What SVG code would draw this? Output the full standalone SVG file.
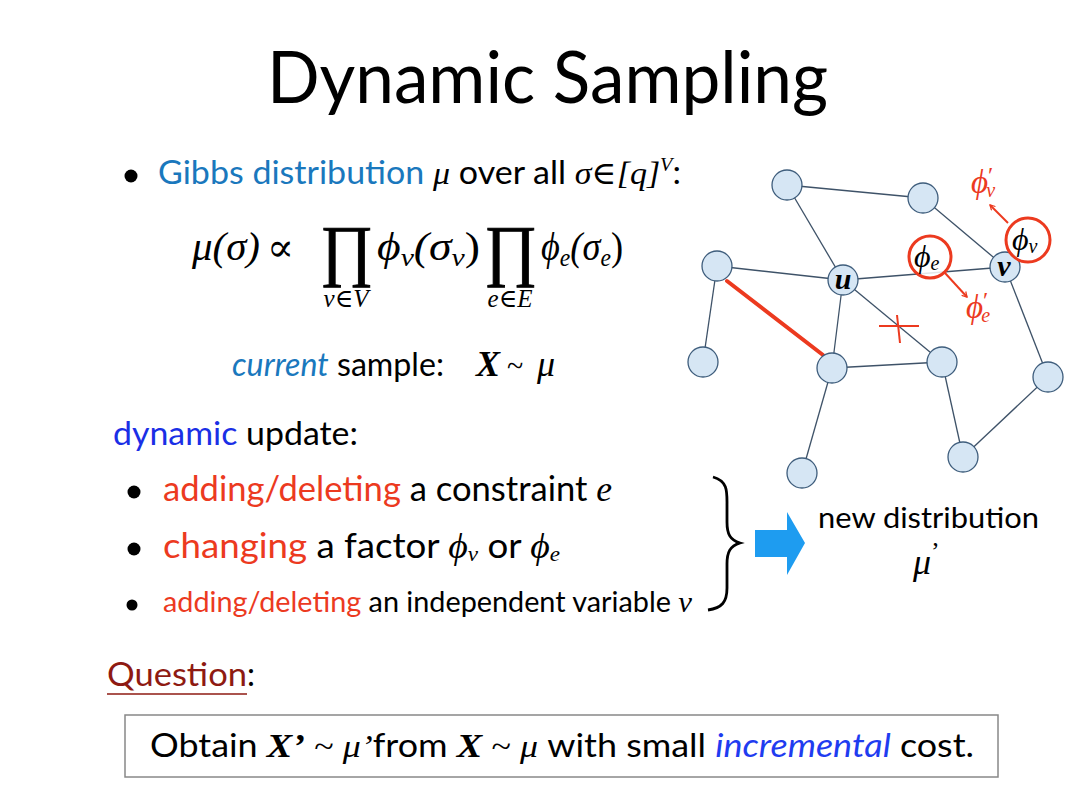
<svg xmlns="http://www.w3.org/2000/svg" width="1080" height="809" viewBox="0 0 1080 809">
<style>
.sans{font-family:Lato,"Open Sans","Liberation Sans",sans-serif;}
.math{font-family:"Liberation Serif","DejaVu Serif",serif;font-style:italic;}
.up{font-style:normal;}
.blue1{fill:#1a78bd;}
.blue2{fill:#1a2fe6;}
.red{fill:#ec3a1f;}
.node{fill:#d6e6f4;stroke:#3e5d7c;stroke-width:1.3;}
.edge{stroke:#3e5268;stroke-width:1.3;fill:none;}
.ring{fill:none;stroke:#ec3a1f;stroke-width:3;}
.rline{stroke:#ec3a1f;stroke-width:2;fill:none;}
.prod{stroke:#000;stroke-width:0.9;}
</style>
<defs>
<marker id="ah" viewBox="0 0 10 10" refX="8" refY="5" markerWidth="7" markerHeight="7" orient="auto" markerUnits="userSpaceOnUse">
<path d="M1,1 L8,5 L1,9" fill="none" stroke="#ec3a1f" stroke-width="1.8"/>
</marker>
</defs>
<rect width="1080" height="809" fill="#fff"/>

<text id="title" class="sans" x="267" y="103" font-size="71" textLength="561" lengthAdjust="spacingAndGlyphs">Dynamic Sampling</text>

<g id="gibbs">
<circle cx="131" cy="176" r="6.5" fill="#000"/>
<text class="sans" x="158" y="184" font-size="32" textLength="523" lengthAdjust="spacingAndGlyphs"><tspan class="blue1">Gibbs distribution</tspan> <tspan class="math" font-size="32">μ</tspan> over all <tspan class="math" font-size="32">σ<tspan class="up">∈</tspan>[q]</tspan><tspan class="math" font-size="19" dy="-13">V</tspan><tspan dy="13">:</tspan></text>
</g>

<g id="formula" class="math" font-size="40">
<text x="192" y="260" textLength="68" lengthAdjust="spacingAndGlyphs">μ(σ)</text>
<text x="267" y="261" class="up" font-size="40">∝</text>
<text x="320" y="273" font-size="68" class="up prod" textLength="53" lengthAdjust="spacingAndGlyphs">∏</text>
<text x="377" y="260" textLength="103" lengthAdjust="spacingAndGlyphs">ϕ<tspan font-size="26" dy="6">v</tspan><tspan dy="-6">(σ</tspan><tspan font-size="26" dy="6">v</tspan><tspan dy="-6" class="up">)</tspan></text>
<text x="484" y="273" font-size="68" class="up prod" textLength="53" lengthAdjust="spacingAndGlyphs">∏</text>
<text x="541" y="260" textLength="82" lengthAdjust="spacingAndGlyphs">ϕ<tspan font-size="26" dy="6">e</tspan><tspan dy="-6">(σ</tspan><tspan font-size="26" dy="6">e</tspan><tspan dy="-6" class="up">)</tspan></text>
<text x="346" y="307" font-size="25" text-anchor="middle">v<tspan class="up">∈</tspan>V</text>
<text x="510" y="307" font-size="25" text-anchor="middle">e<tspan class="up">∈</tspan>E</text>
</g>

<g id="current">
<text class="sans" x="232" y="376" font-size="32" textLength="212" lengthAdjust="spacingAndGlyphs"><tspan class="blue1" font-style="italic">current</tspan> sample:</text>
<text class="math" x="476" y="376" font-size="36" font-weight="bold">X</text>
<text class="math up" x="507" y="376" font-size="30">~</text>
<text class="math" x="537" y="376" font-size="36">μ</text>
</g>

<g id="update">
<text class="sans" x="113" y="445" font-size="32" textLength="245" lengthAdjust="spacingAndGlyphs"><tspan class="blue2">dynamic</tspan> update:</text>
<circle cx="134" cy="492" r="6.5" fill="#000"/>
<text class="sans" x="163" y="501" font-size="35" textLength="449" lengthAdjust="spacingAndGlyphs"><tspan class="red">adding/deleting</tspan> a constraint <tspan class="math" font-size="36">e</tspan></text>
<circle cx="134" cy="549" r="6.5" fill="#000"/>
<text class="sans" x="163" y="558" font-size="35" textLength="397" lengthAdjust="spacingAndGlyphs"><tspan class="red">changing</tspan> a factor <tspan class="math" font-size="36">ϕ<tspan font-size="22" dy="3">v</tspan></tspan><tspan dy="-3"> or </tspan><tspan class="math" font-size="36">ϕ<tspan font-size="22" dy="3">e</tspan></tspan></text>
<circle cx="132" cy="605" r="5.5" fill="#000"/>
<text class="sans" x="163" y="612" font-size="28" textLength="529" lengthAdjust="spacingAndGlyphs"><tspan class="red">adding/deleting</tspan> an independent variable <tspan class="math" font-size="30">v</tspan></text>
</g>

<g id="brace">
<path d="M713,477 C728,481 727,492 727,505 L727,522 C727,534 730,540 740,543 C730,546 727,552 727,564 L727,588 C727,602 722,608 708,610" fill="none" stroke="#000" stroke-width="2.8"/>
</g>

<g id="bigarrow">
<polygon points="755,530 787,530 787,512 805,543 787,575 787,557 755,557" fill="#1e9cf0"/>
</g>

<g id="newdist">
<text class="sans" x="818" y="528" font-size="28" textLength="221" lengthAdjust="spacingAndGlyphs">new distribution</text>
<text class="math" x="913" y="574" font-size="36">μ<tspan class="up" font-size="26" dy="-14">’</tspan></text>
</g>

<g id="question">
<text class="sans" x="107" y="686" font-size="32"><tspan fill="#8e1a12" textLength="140" lengthAdjust="spacingAndGlyphs">Question</tspan>:</text>
<line x1="107" y1="694" x2="247" y2="694" stroke="#8e1a12" stroke-width="1.6"/>
</g>

<g id="box">
<rect x="125" y="715" width="873" height="62" fill="#fff" stroke="#888" stroke-width="1.5"/>
<text class="sans" x="150" y="757" font-size="32" textLength="824" lengthAdjust="spacingAndGlyphs">Obtain <tspan class="math" font-weight="bold" font-size="34">X’</tspan> <tspan class="math up">~</tspan> <tspan class="math">μ’</tspan>from <tspan class="math" font-weight="bold" font-size="34">X</tspan> <tspan class="math up">~</tspan> <tspan class="math">μ</tspan> with small <tspan fill="#1f3cf0" font-style="italic">incremental</tspan> cost.</text>
</g>

<g id="connectors">
<line class="edge" x1="787" y1="185" x2="923" y2="198"/>
<line class="edge" x1="787" y1="185" x2="843" y2="280"/>
<line class="edge" x1="923" y1="198" x2="1005" y2="267"/>
<line class="edge" x1="717" y1="266" x2="843" y2="280"/>
<line class="edge" x1="717" y1="266" x2="703" y2="362"/>
<line class="edge" x1="843" y1="280" x2="1005" y2="267"/>
<line class="edge" x1="843" y1="280" x2="832" y2="368"/>
<line class="edge" x1="843" y1="280" x2="942" y2="362"/>
<line class="edge" x1="832" y1="368" x2="942" y2="362"/>
<line class="edge" x1="832" y1="368" x2="802" y2="473"/>
<line class="edge" x1="942" y1="362" x2="963" y2="457"/>
<line class="edge" x1="1005" y1="267" x2="1048" y2="377"/>
<line class="edge" x1="1048" y1="377" x2="963" y2="457"/>
<line x1="727" y1="281" x2="823" y2="355" stroke="#ec3a1f" stroke-width="4" stroke-linecap="round"/>
<line class="rline" x1="945" y1="273" x2="967" y2="297" marker-end="url(#ah)"/>
<line class="rline" x1="1008" y1="223" x2="990" y2="205" marker-end="url(#ah)"/>
<line class="rline" x1="879" y1="326" x2="919" y2="326" stroke-width="2.5"/>
<line class="rline" x1="897" y1="315" x2="900" y2="343" stroke-width="2.5"/>
</g>

<g id="n-a"><circle class="node" cx="787" cy="185" r="15"/></g>
<g id="n-b"><circle class="node" cx="923" cy="198" r="15"/></g>
<g id="n-c"><circle class="node" cx="717" cy="266" r="15"/></g>
<g id="n-u"><circle class="node" cx="843" cy="280" r="15"/><text class="math" x="843" y="289" font-size="30" font-weight="bold" text-anchor="middle">u</text></g>
<g id="n-v"><circle class="node" cx="1005" cy="267" r="15"/><text class="math" x="1004" y="276" font-size="30" font-weight="bold" text-anchor="middle">v</text></g>
<g id="n-d"><circle class="node" cx="703" cy="362" r="15"/></g>
<g id="n-m"><circle class="node" cx="832" cy="368" r="15"/></g>
<g id="n-r"><circle class="node" cx="942" cy="362" r="15"/></g>
<g id="n-f"><circle class="node" cx="1048" cy="377" r="15"/></g>
<g id="n-g"><circle class="node" cx="802" cy="473" r="15"/></g>
<g id="n-h"><circle class="node" cx="963" cy="457" r="15"/></g>

<g id="phi-e">
<circle cx="930" cy="257" r="21" fill="#fff" fill-opacity="0.85"/>
<circle class="ring" cx="930" cy="257" r="21"/>
<text class="math" x="914" y="267" font-size="32">ϕ<tspan font-size="20" dy="3">e</tspan></text>
</g>
<g id="phi-v">
<circle cx="1028" cy="240" r="22" fill="#fff" fill-opacity="0.85"/>
<circle class="ring" cx="1028" cy="240" r="22"/>
<text class="math" x="1012" y="250" font-size="32">ϕ<tspan font-size="20" dy="3">v</tspan></text>
</g>
<g id="phi-prime">
<text class="math red" x="971" y="193" font-size="33">ϕ<tspan class="up" font-size="24" dy="-10">′</tspan><tspan font-size="20" dx="-7" dy="14">v</tspan></text>
<text class="math red" x="966" y="318" font-size="33">ϕ<tspan class="up" font-size="24" dy="-10">′</tspan><tspan font-size="20" dx="-7" dy="14">e</tspan></text>
</g>
</svg>
